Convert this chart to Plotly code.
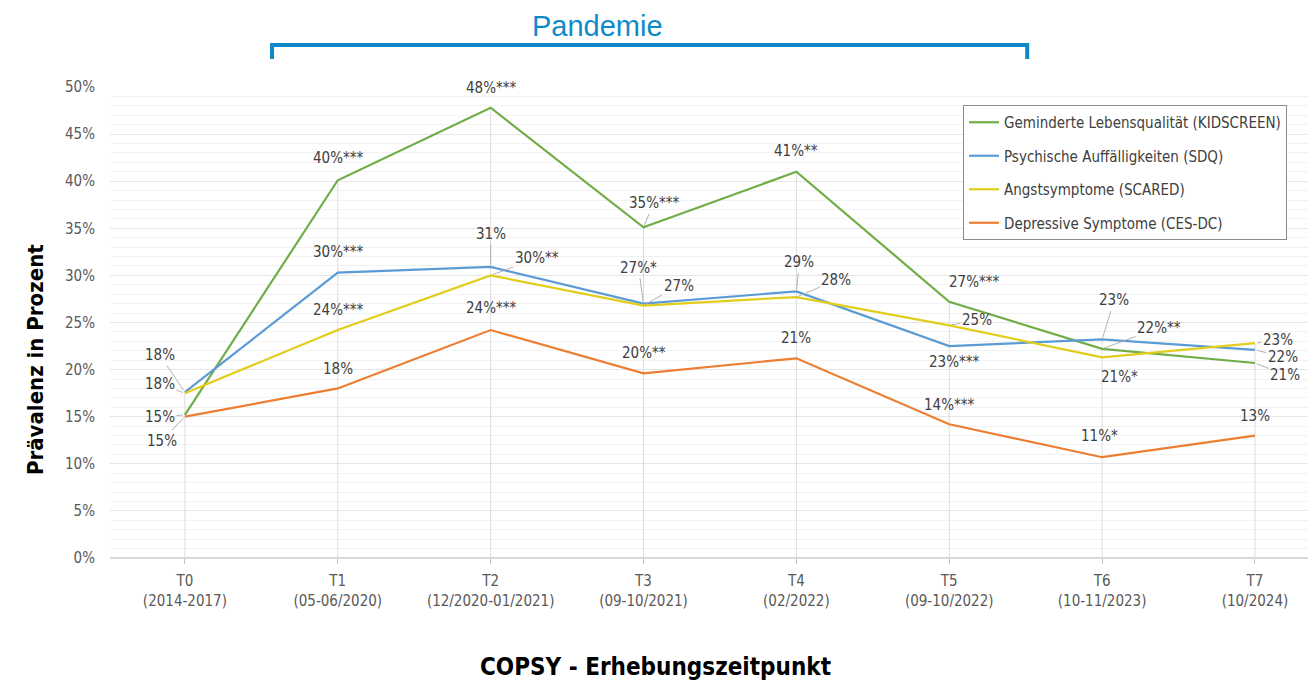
import plotly.graph_objects as go

# Erhebungszeitpunkte
zeitpunkte = ["T0", "T1", "T2", "T3", "T4", "T5", "T6", "T7"]
zeitraeume = ["(2014-2017)", "(05-06/2020)", "(12/2020-01/2021)", "(09-10/2021)",
              "(02/2022)", "(09-10/2022)", "(10-11/2023)", "(10/2024)"]

# Prävalenz in Prozent
lebensqualitaet = [15.2, 40.1, 47.8, 35.1, 41.0, 27.2, 22.2, 20.7]
auffaelligkeiten = [17.6, 30.3, 30.9, 27.0, 28.3, 22.5, 23.2, 22.1]
angst = [17.5, 24.2, 30.0, 26.8, 27.7, 24.7, 21.3, 22.8]
depression = [15.0, 18.0, 24.2, 19.6, 21.2, 14.2, 10.7, 13.0]

# Beschriftungen (mit Signifikanzsternen)
lab_lebensqualitaet = ["15%", "40%***", "48%***", "35%***", "41%**", "27%***", "22%**", "21%"]
lab_auffaelligkeiten = ["18%", "30%***", "31%", "27%*", "29%", "23%***", "23%", "22%"]
lab_angst = ["18%", "24%***", "30%**", "27%", "28%", "25%", "21%*", "23%"]
lab_depression = ["15%", "18%", "24%***", "20%**", "21%", "14%***", "11%*", "13%"]

namen = ["Geminderte Lebensqualität (KIDSCREEN)", "Psychische Auffälligkeiten (SDQ)",
         "Angstsymptome (SCARED)", "Depressive Symptome (CES-DC)"]

FONT = "DejaVu Sans Condensed, sans-serif"
farben = ["#70ad47", "#5b9bd5", "#e2cd1a", "#ed7d31"]

# label offsets in px (dx, dy, leader line)
offs = [
    [(-25, 2, True), (0, -22, False), (0, -20, False), (10, -24, True),
     (0, -21, False), (25, -20, False), (57, -21, True), (30, 12, True)],
    [(-25, -37, True), (0, -21, False), (0, -33, True), (-5, -36, True),
     (3, -29, True), (5, 16, False), (12, -39, True), (28, 7, True)],
    [(-25, -9, True), (0, -20, False), (46, -17, True), (35, -20, True),
     (40, -17, True), (28, -5, True), (17, 20, False), (23, -3, True)],
    [(-23, 24, True), (0, -19, False), (0, -22, False), (0, -20, False),
     (0, -20, False), (0, -19, False), (-3, -21, False), (0, -20, False)],
]

xs = list(range(len(zeitpunkte)))
serien = [lebensqualitaet, auffaelligkeiten, angst, depression]
labels = [lab_lebensqualitaet, lab_auffaelligkeiten, lab_angst, lab_depression]

# plot area in page pixels (the page body adds an 8px offset)
PL, PR, PT, PB = 110, 1310, 87, 558
PW, PH = PR - PL, PB - PT


def px_x(x):
    return (x - PL) / PW


def px_y(y):
    return (PB - y) / PH


fig = go.Figure()

# drop lines (Excel style) from the highest value down to the axis
dx, dy = [], []
for i in xs:
    dx += [i, i, None]
    dy += [max(s[i] for s in serien), 0, None]
fig.add_trace(go.Scatter(x=dx, y=dy, mode="lines", showlegend=False, hoverinfo="skip",
                         line=dict(color="#dcdcdc", width=1)))

for s, name, col in zip(serien, namen, farben):
    fig.add_trace(go.Scatter(x=xs, y=s, mode="lines", name=name, legendgroup=name,
                             line=dict(color=col, width=2.2)))

annotations = []
for s, labs, off in zip(serien, labels, offs):
    for i, (v, t, o) in enumerate(zip(s, labs, off)):
        annotations.append(dict(
            x=xs[i], y=v, text=t, showarrow=True, arrowhead=0, arrowwidth=1,
            arrowcolor="rgba(170,170,170,0.9)" if o[2] else "rgba(0,0,0,0)",
            ax=o[0], ay=o[1], standoff=2,
            font=dict(family=FONT, size=15, color="#404040")))

annotations += [
    dict(text="Pandemie", x=px_x(597), y=px_y(9), xref="paper", yref="paper",
         xanchor="center", yanchor="top", showarrow=False, borderpad=0,
         font=dict(family="Liberation Sans, Arial", size=29, color="#0f8ac9")),
    dict(text="<b>COPSY - Erhebungszeitpunkt</b>", x=px_x(655), y=px_y(667),
         xref="paper", yref="paper", xanchor="center", yanchor="middle", showarrow=False,
         font=dict(family=FONT, size=24, color="black")),
    dict(text="<b>Prävalenz in Prozent</b>", x=px_x(35), y=px_y(360), textangle=-90,
         xref="paper", yref="paper", xanchor="center", yanchor="middle", showarrow=False,
         font=dict(family=FONT, size=22, color="black")),
]
fig.update_layout(annotations=annotations)

# bracket above the plot
br_x0, br_x1 = 0.57, 5.51
fig.add_shape(type="path", xref="x", yref="paper",
              path=f"M {br_x0} {px_y(59)} L {br_x0} {px_y(45)} L {br_x1} {px_y(45)} L {br_x1} {px_y(59)}",
              line=dict(color="#1287c8", width=4))

fig.update_layout(
    width=1316, height=685,
    margin=dict(l=PL - 8, r=1316 - PR + 8, t=PT - 8, b=685 - PB + 8),
    paper_bgcolor="white", plot_bgcolor="white",
    font=dict(family=FONT, color="#595959"),
    legend=dict(x=px_x(963), y=px_y(105), xanchor="left", yanchor="top",
                bordercolor="#8c8c8c", borderwidth=1, bgcolor="white",
                font=dict(family=FONT, size=15, color="#404040"),
                tracegroupgap=11, itemwidth=30),
    xaxis=dict(range=[-0.49, 7.36], tickmode="array", tickvals=xs,
               ticktext=[f"{a}<br>{b}" for a, b in zip(zeitpunkte, zeitraeume)],
               tickfont=dict(family=FONT, size=15, color="#595959"),
               showgrid=False, zeroline=False, ticks="outside", ticklen=5,
               tickcolor="#bfbfbf", showline=False, ticklabelstandoff=4),
    yaxis=dict(range=[0, 50], dtick=5, ticksuffix="%", showgrid=True,
               gridcolor="#e6e6e6", gridwidth=1, zeroline=True, zerolinecolor="#d9d9d9",
               minor=dict(dtick=1, showgrid=True, gridcolor="#f2f2f2"),
               tickfont=dict(family=FONT, size=15, color="#595959"),
               ticklabelstandoff=14),
)

fig.write_html("out.html")
